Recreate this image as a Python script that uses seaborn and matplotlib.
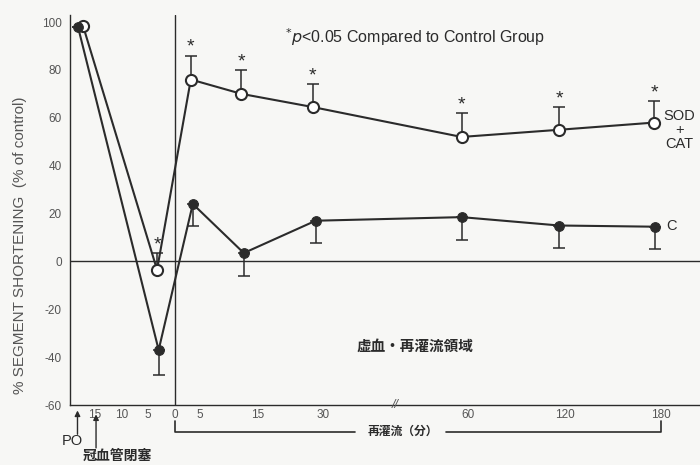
import numpy as np
import pandas as pd
import matplotlib
matplotlib.use("Agg")
import matplotlib.pyplot as plt
import seaborn as sns

# --- data (minutes; occlusion period negative) ---
tick_times = [-15, -10, -5, 0, 5, 15, 30, 60, 120, 180]
tick_labels = ["15", "10", "5", "0", "5", "15", "30", "60", "120", "180"]

sod_time = [-17.4, -3.3, 3.2, 12.2, 27.7, 58.6, 116.3, 175.6]
sod_value = [98.5, -3.5, 76, 70, 64.5, 52, 55, 58]
sod_err = [0, 7, 10, 10, 9.5, 10, 9.5, 9]

c_time = [-18.4, -3.0, 3.6, 12.6, 28.4, 58.6, 116.3, 176.2]
c_value = [98, -37, 24, 3.5, 17, 18.5, 15, 14.5]
c_err = [0, 10.5, 9, 9.5, 9.5, 9.5, 9.5, 9.5]

# piecewise axis: anchor times -> relative positions on the printed axis
scale_t = [-20, -15, -10, -5, 0, 5, 15, 30, 60, 120, 180, 205]
scale_p = [70, 95, 122, 148, 175, 200, 258, 323, 469, 566, 662, 701]

ink = "#2b2b2b"
grey = "#555555"
bg = "#f7f7f5"

sns.set_theme(style="white")
plt.rcParams["font.family"] = ["Liberation Sans", "Noto Sans CJK JP", "DejaVu Sans"]
plt.rcParams["axes.unicode_minus"] = False

df = pd.DataFrame({
    "time": sod_time + c_time,
    "value": sod_value + c_value,
    "group": ["SOD+CAT"] * len(sod_time) + ["C"] * len(c_time),
})

fig = plt.figure(figsize=(7, 4.65), dpi=100, facecolor=bg)
ax = fig.add_axes([0.1, 0.129, 0.9, 0.839], facecolor=bg)

# error bars (one-sided)
ax.errorbar(sod_time, sod_value, yerr=[np.zeros(len(sod_err)), sod_err], fmt="none",
            ecolor=ink, elinewidth=1.1, capsize=4, capthick=1.1, zorder=1.5)
ax.errorbar(c_time, c_value, yerr=[c_err, np.zeros(len(c_err))], fmt="none",
            ecolor=ink, elinewidth=1.1, capsize=4, capthick=1.1, zorder=1.5)

sod = df[df["group"] == "SOD+CAT"]
ctl = df[df["group"] == "C"]
sns.lineplot(data=sod, x="time", y="value", color=ink, lw=1.5, marker="o", ms=8,
             markerfacecolor="white", markeredgecolor=ink, markeredgewidth=1.5,
             errorbar=None, ax=ax, zorder=3)
sns.lineplot(data=ctl, x="time", y="value", color=ink, lw=1.5, marker="o", ms=7,
             markerfacecolor=ink, markeredgecolor=ink, errorbar=None, ax=ax, zorder=3)

# significance stars
for t, v, e in zip(sod_time[1:], sod_value[1:], sod_err[1:]):
    ax.text(t, v + e + 3.5, "*", ha="center", va="center", fontsize=14, color=ink)

fwd = lambda t: np.interp(t, scale_t, scale_p)
inv = lambda p: np.interp(p, scale_p, scale_t)
ax.set_xscale("function", functions=(fwd, inv))
ax.set_xlim(-20, 205)
ax.set_ylim(-60, 103)

ax.axhline(0, color=ink, lw=1, zorder=1)
ax.axvline(0, color=ink, lw=1, zorder=1)

ax.set_xticks(tick_times)
ax.set_xticklabels(tick_labels)
ax.set_yticks(np.arange(-60, 101, 20))
ax.tick_params(axis="x", direction="in", length=4, width=1, colors=ink,
               labelcolor=grey, labelsize=8.5, pad=3)
ax.tick_params(axis="y", direction="out", length=4, width=1, colors=ink,
               labelcolor=grey, labelsize=8.5, pad=2)
ax.minorticks_off()
sns.despine(ax=ax)
for s in ["left", "bottom"]:
    ax.spines[s].set_color(ink)
    ax.spines[s].set_linewidth(1)

ax.set_xlabel("")
ax.set_ylabel("% SEGMENT SHORTENING  (% of control)", fontsize=11, color=grey)
ax.yaxis.set_label_coords(-0.068, 0.41)

# axis break
ax.text(45, -60, "//", ha="center", va="center", fontsize=9, color=grey,
        style="italic", clip_on=False)

# annotations
ax.text(49, 93.7, r"$^{*}\mathit{p}$<0.05 Compared to Control Group",
        ha="center", va="center", fontsize=11.5, color=ink)
ax.text(191.8, 55, "SOD\n+\nCAT", ha="center", va="center", fontsize=10.5,
        color=ink, linespacing=1.0)
ax.text(186.8, 14.6, "C", ha="center", va="center", fontsize=10.5, color=ink)
ax.text(49, -35.6, "虚血・再灌流領域", ha="center", va="center", fontsize=10.5,
        color=ink, fontweight="bold")

xt = ax.get_xaxis_transform()
arrow = dict(arrowstyle="-|>", color=ink, lw=1, mutation_scale=8, shrinkA=0, shrinkB=0)
ax.annotate("", xy=(-18.5, -0.014), xytext=(-18.5, -0.075), xycoords=xt,
            textcoords=xt, arrowprops=arrow, annotation_clip=False)
ax.text(-19.6, -0.092, "PO", transform=xt, ha="center", va="center",
        fontsize=10.5, color=ink)
ax.annotate("", xy=(-14.8, -0.024), xytext=(-14.8, -0.11), xycoords=xt,
            textcoords=xt, arrowprops=arrow, annotation_clip=False)
ax.text(-10.9, -0.131, "冠血管閉塞", transform=xt, ha="center", va="center",
        fontsize=10, color=ink, fontweight="bold")

# reperfusion bracket
yb0, yb1 = -0.04, -0.069
ax.plot([0, 0, 36.6], [yb0, yb1, yb1], color=ink, lw=1.2, transform=xt, clip_on=False)
ax.plot([55.4, 180, 180], [yb1, yb1, yb0], color=ink, lw=1.2, transform=xt, clip_on=False)
ax.text(46.5, yb1, "再灌流（分）", transform=xt, ha="center", va="center",
        fontsize=8.5, color=ink, fontweight="bold")

fig.savefig("out.png", dpi=100, facecolor=bg)
